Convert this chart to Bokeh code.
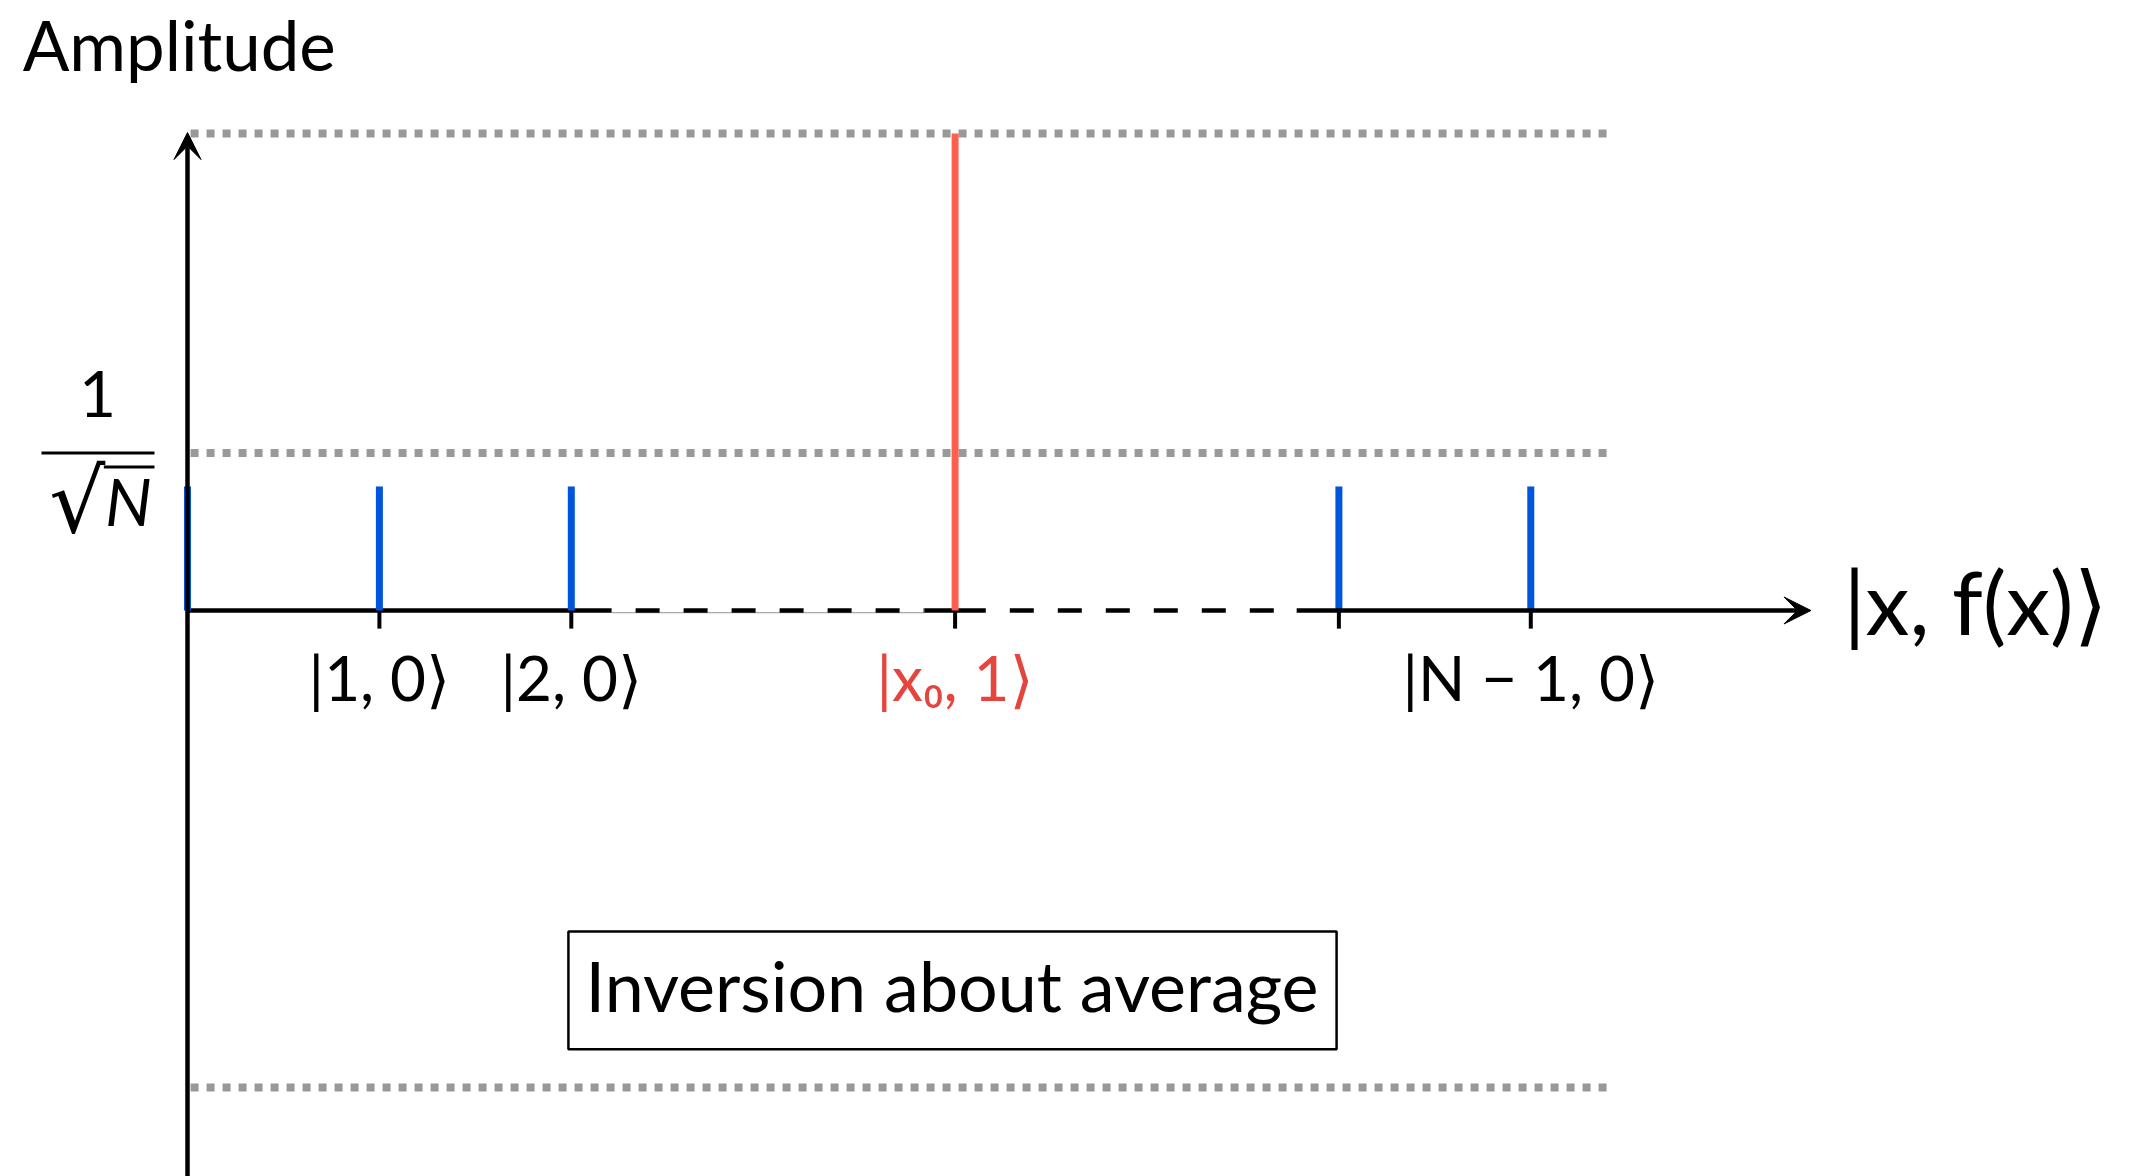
from bokeh.plotting import figure
from bokeh.models import Range1d, Arrow, VeeHead, ColumnDataSource
from bokeh.core.properties import value
from bokeh.embed import file_html
from bokeh.resources import INLINE

# ---------------- data ----------------
state_x = [0, 1, 2, 4, 6, 7]
amplitude = [0.26, 0.26, 0.26, 1.0, 0.26, 0.26]
marked = [False, False, False, True, False, False]
tick_x = [1, 2, 4, 6, 7]
label_x = [1, 2, 4, 7]
label_text = ["|1, 0⟩", "|2, 0⟩", "|x₀, 1⟩", "|N − 1, 0⟩"]
label_marked = [False, False, True, False]
guide_levels = [1.0, 0.33, -1.0]
y_label_level = 0.33
x_axis_title = "|x, f(x)⟩"
y_axis_title = "Amplitude"
box_text = "Inversion about average"

# ---------------- style ----------------
BLUE = "#0055DD"
RED_LINE = "#FF5F4F"
RED_TEXT = "#E5453D"
GRAY = "#999999"
FONT = "Lato, DejaVu Sans"
BASE_FIX = -28  # screen px correction for alphabetic baseline

W, H = 2129, 1176
p = figure(width=W, height=H,
           x_range=Range1d(-0.9745, 10.120), y_range=Range1d(-1.1866, 1.2788),
           output_backend="svg", toolbar_location=None, min_border=0,
           x_axis_location=None, y_axis_location=None)
p.grid.visible = False
p.outline_line_color = None
p.background_fill_color = "white"
p.border_fill_color = "white"

# dotted guide lines
p.segment(x0=[0.016] * len(guide_levels), y0=guide_levels,
          x1=[7.41] * len(guide_levels), y1=guide_levels,
          line_color=GRAY, line_width=8, line_dash="8 8")

# x axis: solid / dashed pieces and arrow
p.segment(x0=[2.21], y0=[-0.0046], x1=[3.84], y1=[-0.0046],
          line_color="#aaaaaa", line_width=1.3)
p.segment(x0=[0, 3.84], y0=[0, 0], x1=[2.21, 4.16], y1=[0, 0],
          line_color="black", line_width=4.5)
p.segment(x0=[2.21, 4.16], y0=[0, 0], x1=[3.84, 5.78], y1=[0, 0],
          line_color="black", line_width=4.5, line_dash="24 24", line_dash_offset=24)
p.add_layout(Arrow(end=VeeHead(size=27, fill_color="black", line_color="black", line_width=1),
                   x_start=5.78, y_start=0, x_end=8.46, y_end=0,
                   line_color="black", line_width=4.5))

# y axis with arrow
p.add_layout(Arrow(end=VeeHead(size=27, fill_color="black", line_color="black", line_width=1),
                   x_start=0, y_start=-1.2, x_end=0, y_end=1.002,
                   line_color="black", line_width=4.5))

# ticks
p.segment(x0=tick_x, y0=[0] * len(tick_x), x1=tick_x, y1=[-0.038] * len(tick_x),
          line_color="black", line_width=4)

# amplitude bars
bars = ColumnDataSource(dict(x=state_x, y0=[0] * len(state_x), y1=amplitude,
                             c=[RED_LINE if m else BLUE for m in marked]))
p.segment(x0="x", y0="y0", x1="x", y1="y1", line_color="c", line_width=7, source=bars)

# tick labels (kets)
labs = ColumnDataSource(dict(x=label_x, y=[0] * len(label_x), t=label_text,
                             c=[RED_TEXT if m else "black" for m in label_marked]))
p.text(x="x", y="y", text="t", text_color="c", source=labs,
       text_font=value(FONT), text_font_size="62px",
       text_align="center", text_baseline="alphabetic", y_offset=95 + BASE_FIX)

# x axis title
p.text(x=[8.63], y=[0], text=[x_axis_title], text_font=value(FONT),
       text_font_size="88px", text_align="left", text_baseline="middle",
       y_offset=-9, text_color="black")

# y axis title
p.text(x=[-0.859], y=[1.138], text=[y_axis_title], text_font=value(FONT),
       text_font_size="69px", text_align="left", text_baseline="alphabetic",
       y_offset=5 + BASE_FIX, text_color="black")

# 1/sqrt(N) label
p.text(x=[-0.469], y=[y_label_level], text=["1"], text_font=value(FONT),
       text_font_size="64px", text_align="center", text_baseline="alphabetic",
       y_offset=-31 + BASE_FIX, text_color="black")
p.segment(x0=[-0.761], y0=[y_label_level], x1=[-0.172], y1=[y_label_level],
          line_color="black", line_width=3)
p.text(x=[-0.428], y=[y_label_level], text=["√"], text_font=value("DejaVu Sans"),
       text_font_size="88px", text_align="right", text_baseline="alphabetic",
       y_offset=76 + BASE_FIX, text_color="black")
p.text(x=[-0.430], y=[y_label_level], text=["N"], text_font=value(FONT),
       text_font_style="italic",
       text_font_size="66px", text_align="left", text_baseline="alphabetic",
       y_offset=75 + BASE_FIX, text_color="black")
p.segment(x0=[-0.436], y0=[0.301], x1=[-0.172], y1=[0.301],
          line_color="black", line_width=3)

# boxed caption
p.quad(left=[1.985], right=[5.988], top=[-0.673], bottom=[-0.920],
       fill_color="white", line_color="black", line_width=2.5)
p.text(x=[3.984], y=[-0.843], text=[box_text], text_font=value(FONT),
       text_font_size="70px", text_align="center", text_baseline="alphabetic",
       y_offset=BASE_FIX, text_color="black")

open("out.html", "w").write(file_html(p, INLINE))
